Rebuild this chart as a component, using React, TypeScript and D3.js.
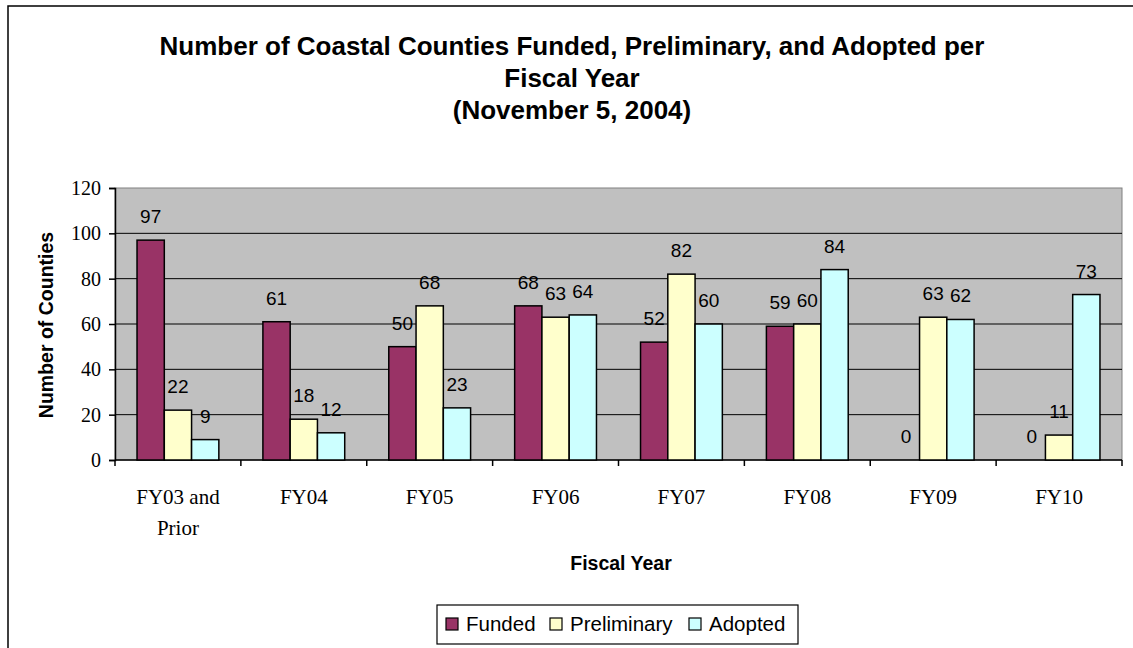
import { useEffect, useRef } from 'react';
import * as d3 from 'd3';

const categories = ['FY03 and Prior', 'FY04', 'FY05', 'FY06', 'FY07', 'FY08', 'FY09', 'FY10'];
const seriesNames = ['Funded', 'Preliminary', 'Adopted'];
const funded = [97, 61, 50, 68, 52, 59, 0, 0];
const preliminary = [22, 18, 68, 63, 82, 60, 63, 11];
const adopted = [9, 12, 23, 64, 60, 84, 62, 73];
const seriesColors = ['#993366', '#FFFFCC', '#CCFFFF'];
const yTicks = [0, 20, 40, 60, 80, 100, 120];
const titleLines = [
  'Number of Coastal Counties Funded, Preliminary, and Adopted per',
  'Fiscal Year',
  '(November 5, 2004)',
];

const SANS = '"Liberation Sans", Arial, sans-serif';
const SERIF = '"Liberation Serif", "Times New Roman", serif';

export default function App() {
  const svgRef = useRef<SVGSVGElement>(null);

  useEffect(() => {
    if (!svgRef.current) return;
    document.body.style.margin = '0';
    document.body.style.overflow = 'hidden';
    const width = 1133;
    const height = 648;
    const left = 115;
    const right = 1122;
    const top = 188;
    const bottom = 460;

    const svg = d3.select(svgRef.current);
    svg.selectAll('*').remove();
    svg.attr('width', width).attr('height', height);

    // chart frame (only left and top edges are visible in the picture)
    svg.append('rect')
      .attr('x', 8).attr('y', 6)
      .attr('width', width + 20).attr('height', height + 20)
      .attr('fill', '#fff')
      .attr('stroke', '#000').attr('stroke-width', 1.5);

    // title
    svg.append('text')
      .attr('text-anchor', 'middle')
      .attr('font-family', SANS)
      .attr('font-weight', 'bold')
      .attr('font-size', 26)
      .selectAll('tspan')
      .data(titleLines)
      .enter()
      .append('tspan')
      .attr('x', 572)
      .attr('y', (_d, i) => 55 + i * 32)
      .text((d) => d);

    const x = d3.scaleBand<string>()
      .domain(categories)
      .range([left, right])
      .paddingInner(0.35)
      .paddingOuter(0.175);

    const xInner = d3.scaleBand<string>()
      .domain(seriesNames)
      .range([0, x.bandwidth()]);

    const y = d3.scaleLinear().domain([0, 120]).range([bottom, top]);

    // plot area
    svg.append('rect')
      .attr('x', left).attr('y', top)
      .attr('width', right - left).attr('height', bottom - top)
      .attr('fill', '#C0C0C0')
      .attr('stroke', '#808080').attr('stroke-width', 1);

    // gridlines
    svg.append('g')
      .selectAll('line')
      .data(yTicks.filter((t) => t > 0 && t < 120))
      .enter()
      .append('line')
      .attr('x1', left).attr('x2', right)
      .attr('y1', (d) => y(d)).attr('y2', (d) => y(d))
      .attr('stroke', '#000').attr('stroke-width', 1);

    // y axis
    const yAxis = svg.append('g')
      .attr('transform', `translate(${left},0)`)
      .call(d3.axisLeft(y).tickValues(yTicks).tickSize(6).tickPadding(8));
    yAxis.select('.domain').attr('stroke', '#000').attr('stroke-width', 1.5);
    yAxis.selectAll('.tick line').attr('stroke', '#000').attr('stroke-width', 1.5);
    yAxis.selectAll('.tick text')
      .attr('font-family', SERIF)
      .attr('font-size', 20)
      .attr('fill', '#000');

    // x axis (ticks at category boundaries)
    const step = x.step();
    const boundaries = d3.range(categories.length + 1).map((i) => left + i * step);
    svg.append('line')
      .attr('x1', left).attr('x2', right)
      .attr('y1', bottom).attr('y2', bottom)
      .attr('stroke', '#000').attr('stroke-width', 1.5);
    svg.append('g')
      .selectAll('line')
      .data(boundaries)
      .enter()
      .append('line')
      .attr('x1', (d) => d).attr('x2', (d) => d)
      .attr('y1', bottom).attr('y2', bottom + 6)
      .attr('stroke', '#000').attr('stroke-width', 1.5);

    // category labels
    const xl = svg.append('g')
      .attr('font-family', SERIF)
      .attr('font-size', 21)
      .attr('text-anchor', 'middle');
    categories.forEach((c) => {
      const cx = (x(c) ?? 0) + x.bandwidth() / 2;
      const parts = c === 'FY03 and Prior' ? ['FY03 and', 'Prior'] : [c];
      parts.forEach((p, i) => {
        xl.append('text')
          .attr('x', cx)
          .attr('y', 504 + i * 31)
          .text(p);
      });
    });

    // bars
    const seriesData = [funded, preliminary, adopted];
    seriesData.forEach((vals, si) => {
      const g = svg.append('g');
      vals.forEach((v, ci) => {
        const bx = (x(categories[ci]) ?? 0) + (xInner(seriesNames[si]) ?? 0);
        const bw = xInner.bandwidth();
        if (v > 0) {
          g.append('rect')
            .attr('x', bx).attr('y', y(v))
            .attr('width', bw).attr('height', y(0) - y(v))
            .attr('fill', seriesColors[si])
            .attr('stroke', '#000').attr('stroke-width', 1.5);
        }
        g.append('text')
          .attr('x', bx + bw / 2)
          .attr('y', y(v) - 17)
          .attr('text-anchor', 'middle')
          .attr('font-family', SANS)
          .attr('font-size', 19)
          .attr('fill', '#000')
          .text(v);
      });
    });

    // axis titles (the y title is cut off at the top, as in the original)
    svg.append('clipPath').attr('id', 'ytitle-clip')
      .append('rect')
      .attr('x', 0).attr('y', 224)
      .attr('width', 100).attr('height', 300);
    svg.append('g')
      .attr('clip-path', 'url(#ytitle-clip)')
      .append('text')
      .attr('transform', `translate(53,${(top + bottom) / 2 + 1}) rotate(-90)`)
      .attr('text-anchor', 'middle')
      .attr('font-family', SANS)
      .attr('font-weight', 'bold')
      .attr('font-size', 19.5)
      .text('Number of Counties');

    svg.append('text')
      .attr('x', 621)
      .attr('y', 570)
      .attr('text-anchor', 'middle')
      .attr('font-family', SANS)
      .attr('font-weight', 'bold')
      .attr('font-size', 19.5)
      .text('Fiscal Year');

    // legend
    const legend = svg.append('g');
    legend.append('rect')
      .attr('x', 437).attr('y', 605)
      .attr('width', 361).attr('height', 39)
      .attr('fill', '#fff')
      .attr('stroke', '#000').attr('stroke-width', 1.2);
    const legendX = [446, 550, 689];
    seriesNames.forEach((name, i) => {
      legend.append('rect')
        .attr('x', legendX[i]).attr('y', 618)
        .attr('width', 12).attr('height', 12)
        .attr('fill', seriesColors[i])
        .attr('stroke', '#000').attr('stroke-width', 1.2);
      legend.append('text')
        .attr('x', legendX[i] + 20)
        .attr('y', 631)
        .attr('font-family', SANS)
        .attr('font-size', 20.5)
        .text(name);
    });
  }, []);

  return (
    <div>
      <svg ref={svgRef} style={{ display: 'block', position: 'absolute', left: 0, top: 0 }} />
    </div>
  );
}
